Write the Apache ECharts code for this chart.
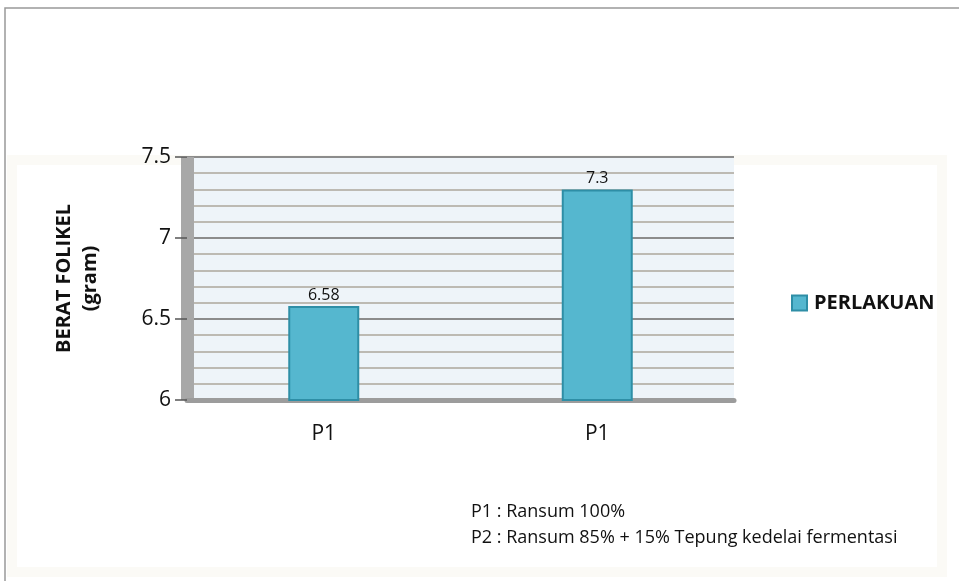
<!DOCTYPE html>
<html>
<head>
<meta charset="utf-8">
<script src="https://cdn.jsdelivr.net/npm/echarts@6/dist/echarts.min.js"></script>
<style>
  html, body { margin: 0; padding: 0; background: #fff; }
  #chart { width: 959px; height: 581px; }
</style>
</head>
<body>
<div id="chart"></div>
<script>
const categories = ['P1', 'P1'];
const values = [6.58, 7.3];
const seriesName = 'PERLAKUAN';
const axisTitle = 'BERAT FOLIKEL\n(gram)';
const notes = ['P1 : Ransum 100%', 'P2 : Ransum 85% + 15% Tepung kedelai fermentasi'];

const font = '"Open Sans", "Liberation Sans", sans-serif';

document.addEventListener('DOMContentLoaded', () => {
  echarts.init(document.querySelector('#chart')).setOption({
    backgroundColor: '#fff',
    textStyle: { fontFamily: font },
    animation: false,
    grid: {
      left: 187, top: 157, width: 547, height: 243,
      show: true, backgroundColor: '#eef4f9', borderWidth: 0
    },
    legend: {
      left: 786, top: 288,
      icon: 'rect', itemWidth: 15, itemHeight: 15, itemGap: 5,
      textStyle: { fontSize: 20, fontWeight: 'bold', color: '#111', fontFamily: font, padding: [0, 0, 0, 2] },
      data: [seriesName]
    },
    xAxis: {
      type: 'category',
      data: categories,
      axisLine: { lineStyle: { color: '#9c9c9c', width: 5 } },
      axisTick: { show: false },
      axisLabel: { fontSize: 21, color: '#111', margin: 24 }
    },
    yAxis: {
      type: 'value',
      min: 6, max: 7.5, interval: 0.5,
      name: axisTitle,
      nameLocation: 'middle',
      nameGap: 84,
      nameTextStyle: { fontSize: 20, fontWeight: 'bold', color: '#111', lineHeight: 26 },
      axisLine: { show: true, lineStyle: { color: '#a8a8a8', width: 13, cap: 'butt' } },
      axisTick: { show: true, length: 12, lineStyle: { color: '#555', width: 1.5 } },
      axisLabel: { fontSize: 21, color: '#111', margin: 16, formatter: v => String(v) },
      splitLine: { lineStyle: { color: '#8c8c8c', width: 2 } },
      minorTick: { show: false, splitNumber: 5 },
      minorSplitLine: { show: true, lineStyle: { color: '#bdbab3', width: 2 } }
    },
    series: [{
      name: seriesName,
      type: 'bar',
      data: values,
      barWidth: 71,
      itemStyle: { color: '#55b7cf', borderColor: '#2e8ea6', borderWidth: 2 },
      label: { show: true, position: 'top', fontSize: 16, color: '#111', distance: 3 }
    }],
    graphic: [
      {
        type: 'rect', z: -10, silent: true,
        shape: { x: 5, y: 8, width: 1000, height: 600 },
        style: { fill: 'none', stroke: '#999', lineWidth: 1.5 }
      },
      {
        type: 'rect', z: -9, silent: true,
        shape: { x: 12, y: 160, width: 930, height: 412 },
        style: { fill: 'none', stroke: '#fbfaf6', lineWidth: 10 }
      },
      {
        type: 'text', left: 471, top: 503,
        style: { text: notes[0], fontSize: 18, fill: '#111', fontFamily: font }
      },
      {
        type: 'text', left: 471, top: 529,
        style: { text: notes[1], fontSize: 18, fill: '#111', fontFamily: font }
      }
    ]
  });
});
</script>
</body>
</html>
